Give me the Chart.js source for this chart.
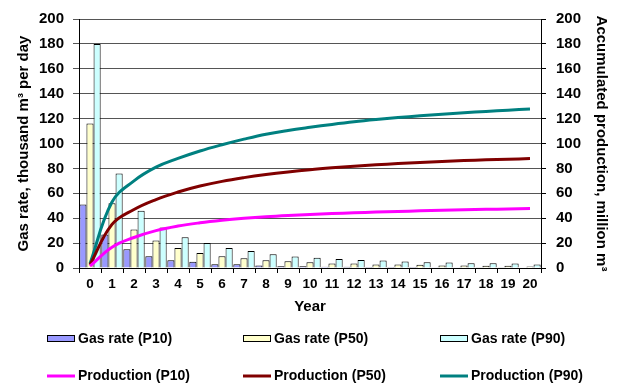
<!DOCTYPE html>
<html>
<head>
<meta charset="utf-8">
<style>
  html, body { margin: 0; padding: 0; background: #fff; }
  #wrap { width: 625px; height: 387px; position: relative; }
</style>
<script src="https://cdn.jsdelivr.net/npm/chart.js@4"></script>
</head>
<body>
<div id="wrap"><canvas id="chart"></canvas></div>
<script>
const years = ["0", "1", "2", "3", "4", "5", "6", "7", "8", "9", "10",
  "11", "12", "13", "14", "15", "16", "17", "18", "19", "20"];

// Gas rate, thousand m3 per day (left axis)
const gasP10 = [51, 27, 15, 9.5, 6.3, 5, 3, 3, 2.1, 1.4, 1.4, 1.1, 1, 0.9, 0.8, 0.8, 0.7, 0.7, 0.6, 0.6, 0.5];
const gasP50 = [116, 52, 31, 22, 16, 12, 9.4, 7.8, 6.2, 5.5, 4.7, 3.6, 3.7, 2.9, 2.9, 2.6, 2.1, 2.1, 1.8, 1.8, 1.3];
const gasP90 = [180, 76, 46, 32.5, 24.6, 20, 16, 13.6, 11, 9.2, 8.3, 7.3, 6.5, 6, 5.2, 4.7, 4.4, 3.8, 3.9, 3.7, 2.9];

// Accumulated production, million m3 (right axis)
const prodP10 = [1.5, 16.7, 24.5, 30, 33.7, 36.3, 38.3, 39.9, 41.2, 42.2, 43, 43.7, 44.3, 44.9, 45.4, 45.9, 46.3, 46.7, 47.1, 47.4, 47.7];
const prodP50 = [2.5, 35, 47, 55, 61, 65.8, 69.6, 72.6, 75.1, 77.2, 79, 80.5, 81.8, 82.9, 83.9, 84.8, 85.6, 86.3, 86.9, 87.4, 87.9];
const prodP90 = [3.5, 53, 70, 81, 88, 94, 99, 103.5, 107.5, 110.5, 113, 115.3, 117.4, 119.2, 120.8, 122.2, 123.5, 124.7, 125.8, 126.8, 127.7];

const axisTicks = [0, 20, 40, 60, 80, 100, 120, 140, 160, 180, 200];

const FONT = "'Liberation Sans', Arial, sans-serif";

/* 3 x 2 legend under the plot, bars on the first row, lines on the second */
const gridLegend = {
  id: "gridLegend",
  afterDraw(chart) {
    const ctx = chart.ctx;
    const cols = [47, 243, 440];
    const rows = [339, 376];
    ctx.save();
    ctx.font = "bold 14px " + FONT;
    ctx.textBaseline = "middle";
    ctx.textAlign = "left";
    chart.data.datasets.forEach((ds, i) => {
      const x = cols[i % 3];
      const y = rows[Math.floor(i / 3)];
      if (ds.type === "line") {
        ctx.strokeStyle = ds.borderColor;
        ctx.lineWidth = 3;
        ctx.beginPath();
        ctx.moveTo(x, y);
        ctx.lineTo(x + 28, y);
        ctx.stroke();
      } else {
        ctx.fillStyle = ds.backgroundColor;
        ctx.fillRect(x + 0.5, y - 3.5, 27, 6);
        ctx.strokeStyle = "#000";
        ctx.lineWidth = 1;
        ctx.strokeRect(x + 0.5, y - 3.5, 27, 6);
      }
      ctx.fillStyle = "#000";
      ctx.fillText(ds.label, x + 31, y);
    });
    ctx.font = "bold 15px " + FONT;
    ctx.textAlign = "center";
    ctx.fillText("Year", (chart.chartArea.left + chart.chartArea.right) / 2, 307);
    ctx.restore();
  },
};

const tickFont = { family: FONT, size: 15, weight: "bold" };
const titleFont = { family: FONT, size: 15, weight: "bold" };

function barSet(label, data, color) {
  return {
    type: "bar",
    label,
    data,
    yAxisID: "y",
    backgroundColor: color,
    borderColor: "#000",
    borderWidth: 1,
    order: 1,
  };
}

function lineSet(label, data, color) {
  return {
    type: "line",
    label,
    data,
    yAxisID: "y1",
    borderColor: color,
    backgroundColor: color,
    borderWidth: 3,
    pointRadius: 0,
    tension: 0.4,
    fill: false,
    order: 0,
  };
}

new Chart(document.getElementById("chart"), {
  type: "bar",
  data: {
    labels: years,
    datasets: [
      barSet("Gas rate (P10)", gasP10, "#9999FF"),
      barSet("Gas rate (P50)", gasP50, "#FFFFCC"),
      barSet("Gas rate (P90)", gasP90, "#CCFFFF"),
      lineSet("Production (P10)", prodP10, "#FF00FF"),
      lineSet("Production (P50)", prodP50, "#800000"),
      lineSet("Production (P90)", prodP90, "#008080"),
    ],
  },
  plugins: [gridLegend],
  options: {
    responsive: true,
    maintainAspectRatio: false,
    animation: false,
    layout: { padding: { top: 13, left: 0, right: 0, bottom: 0 } },
    datasets: {
      bar: { categoryPercentage: 0.97, barPercentage: 1.0 },
    },
    plugins: {
      legend: { display: false },
      tooltip: { enabled: false },
    },
    scales: {
      x: {
        offset: true,
        grid: {
          offset: true,
          drawOnChartArea: false,
          drawTicks: true,
          tickLength: 5,
          color: "#000",
        },
        border: { color: "#000", width: 1 },
        ticks: {
          autoSkip: false,
          maxRotation: 0,
          color: "#000",
          padding: 3,
          font: { family: FONT, size: 13.5, weight: "bold" },
        },
        afterFit: (s) => { s.height = 119; },
      },
      y: {
        position: "left",
        min: 0,
        max: 200,
        afterBuildTicks: (s) => { s.ticks = axisTicks.map((v) => ({ value: v })); },
        grid: { color: "#555", tickLength: 6 },
        border: { color: "#000", width: 1 },
        ticks: { color: "#000", padding: 9, font: tickFont },
        title: {
          display: true,
          text: "Gas rate, thousand m\u00b3 per day",
          color: "#000",
          font: titleFont,
          padding: { top: 15, bottom: 0 },
        },
        afterFit: (s) => { s.width = 79; },
      },
      y1: {
        position: "right",
        min: 0,
        max: 200,
        afterBuildTicks: (s) => { s.ticks = axisTicks.map((v) => ({ value: v })); },
        grid: { drawOnChartArea: false, color: "#000", tickLength: 5 },
        border: { color: "#000", width: 1 },
        ticks: { color: "#000", padding: 10, font: tickFont },
        title: {
          display: true,
          text: "Accumulated production, million m\u00b3",
          color: "#000",
          font: titleFont,
          padding: { top: 15, bottom: 0 },
        },
        afterFit: (s) => { s.width = 84; },
      },
    },
  },
});
</script>
</body>
</html>
